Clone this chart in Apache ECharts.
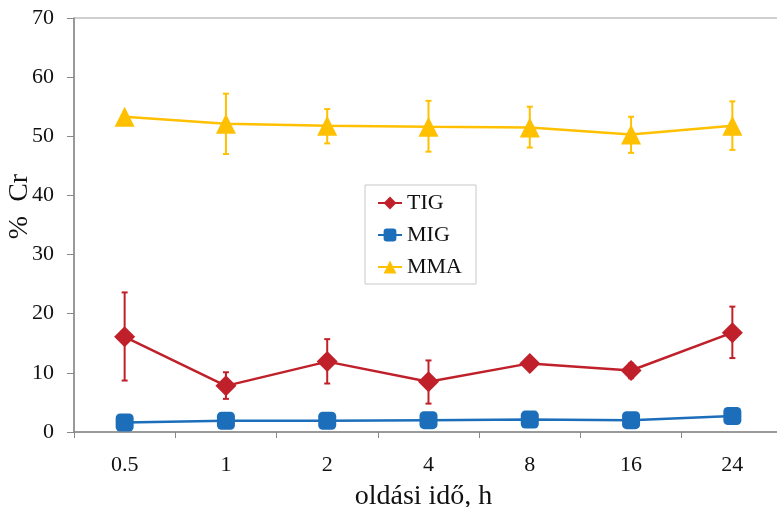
<!DOCTYPE html>
<html><head><meta charset="utf-8">
<script src="https://cdn.jsdelivr.net/npm/echarts@6/dist/echarts.min.js"></script>
<style>html,body{margin:0;padding:0;background:#fff}#c{width:777px;height:507px}</style>
</head><body><div id="c"></div>
<script>
const categories = ['0.5','1','2','4','8','16','24'];
const tig = [16.1, 7.8, 11.9, 8.5, 11.6, 10.4, 16.8];
const tigLow = [8.7, 5.6, 8.2, 4.8, null, 9.1, 12.5];
const tigHigh = [23.6, 10.1, 15.7, 12.1, null, 11.6, 21.2];
const mig = [1.6, 1.9, 1.9, 2.0, 2.1, 2.0, 2.7];
const mma = [53.3, 52.1, 51.8, 51.6, 51.5, 50.3, 51.8];
const mmaLow = [null, 47.0, 48.8, 47.4, 48.1, 47.2, 47.7];
const mmaHigh = [null, 57.2, 54.6, 56.0, 55.0, 53.3, 55.9];
const yTicks = [0, 10, 20, 30, 40, 50, 60, 70];

const C_TIG = '#C0202A', C_MIG = '#1C6EBA', C_MMA = '#FFC000';
const font = '"Liberation Serif", "DejaVu Serif", serif';

function errSeries(low, high, color) {
  const data = [];
  for (let i = 0; i < categories.length; i++) {
    if (low[i] != null) data.push([i, low[i], high[i]]);
  }
  return {
    type: 'custom', silent: true, z: 1,
    data: data,
    renderItem: function (params, api) {
      const x = api.value(0);
      const lo = api.coord([x, api.value(1)]);
      const hi = api.coord([x, api.value(2)]);
      const w = 3;
      const st = { stroke: color, lineWidth: 2 };
      return { type: 'group', children: [
        { type: 'line', shape: { x1: lo[0], y1: lo[1], x2: hi[0], y2: hi[1] }, style: st },
        { type: 'line', shape: { x1: lo[0]-w, y1: lo[1], x2: lo[0]+w, y2: lo[1] }, style: st },
        { type: 'line', shape: { x1: hi[0]-w, y1: hi[1], x2: hi[0]+w, y2: hi[1] }, style: st }
      ]};
    }
  };
}

const chart = echarts.init(document.getElementById('c'));
chart.setOption({
  animation: false,
  backgroundColor: '#fff',
  grid: { left: 74, top: 18, width: 709, height: 414, outerBoundsMode: 'none', containLabel: false,
          show: true, borderColor: '#a0a0a0', borderWidth: 1 },
  legend: {
    data: ['TIG', 'MIG', 'MMA'],
    orient: 'vertical', left: 365, top: 185,
    itemWidth: 24, itemHeight: 16, itemGap: 10,
    padding: [7, 14, 6, 12],
    borderColor: '#c8c8c8', borderWidth: 1,
    textStyle: { fontFamily: font, fontSize: 22, color: '#111' }
  },
  xAxis: {
    type: 'category', data: categories, boundaryGap: true,
    name: 'oldási idő, h', nameLocation: 'middle', nameGap: 51, nameMoveOverlap: false,
    nameTextStyle: { fontFamily: font, fontSize: 28, color: '#111', padding: [0, 10, 0, 0] },
    axisLine: { lineStyle: { color: '#888', width: 1.5 } },
    axisTick: { show: true, length: 6, lineStyle: { color: '#888' } },
    axisLabel: { fontFamily: font, fontSize: 22, color: '#111', margin: 22 }
  },
  yAxis: {
    type: 'value', min: yTicks[0], max: yTicks[yTicks.length-1], interval: 10,
    name: '%  Cr', nameLocation: 'middle', nameGap: 40, nameRotate: 90, nameMoveOverlap: false,
    nameTextStyle: { fontFamily: font, fontSize: 28, color: '#111', padding: [0, 0, 0, 37] },
    axisLine: { show: true, lineStyle: { color: '#888', width: 1.5 } },
    axisTick: { show: true, inside: false, length: 7, lineStyle: { color: '#888' } },
    splitLine: { show: false },
    axisLabel: { fontFamily: font, fontSize: 22, color: '#111', margin: 20 }
  },
  series: [
    errSeries(tigLow, tigHigh, C_TIG),
    errSeries(mmaLow, mmaHigh, C_MMA),
    { name: 'TIG', type: 'line', data: tig, symbol: 'diamond', symbolSize: 21, z: 3,
      itemStyle: { color: C_TIG }, lineStyle: { color: C_TIG, width: 2.5 } },
    { name: 'MIG', type: 'line', data: mig, symbol: 'roundRect', symbolSize: 18, z: 3,
      itemStyle: { color: C_MIG }, lineStyle: { color: C_MIG, width: 2.5 } },
    { name: 'MMA', type: 'line', data: mma, symbol: 'triangle', symbolSize: 20, z: 3,
      itemStyle: { color: C_MMA }, lineStyle: { color: C_MMA, width: 2.5 } }
  ]
});
</script></body></html>
